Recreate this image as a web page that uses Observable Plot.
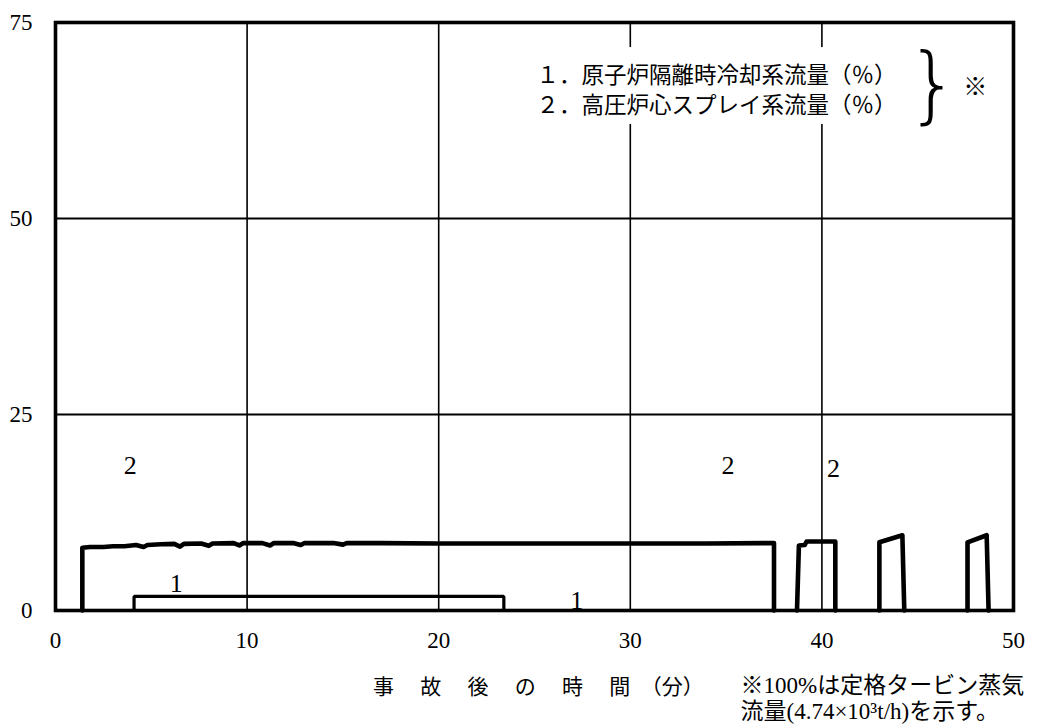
<!DOCTYPE html>
<html><head><meta charset="utf-8">
<script src="https://cdn.jsdelivr.net/npm/d3@7"></script>
<script src="https://cdn.jsdelivr.net/npm/@observablehq/plot@0.6"></script>
<style>body{margin:0;background:#fff}</style>
</head><body><div id="chart"></div>
<script>
// x ticks (minutes), y ticks (%)
const xTicks = [0, 10, 20, 30, 40, 50];
const yTicks = [0, 25, 50, 75];
const xGrid = [10, 20, 30, 40];
const yGrid = [25, 50];

// Series 1: RCIC flow (%)  [time, value]
const series1 = [[4.1, 0], [4.1, 1.8], [23.4, 1.8], [23.4, 0]];

// Series 2: HPCS flow (%) - four operating segments
const series2a = [[1.4, 0], [1.4, 8.0], [1.8, 8.1], [2.5, 8.1], [3.0, 8.2], [3.6, 8.2], [4.2, 8.35], [4.6, 8.1], [4.8, 8.35], [5.5, 8.45],
  [6.2, 8.5], [6.5, 8.15], [6.7, 8.5], [7.6, 8.55], [8.0, 8.25], [8.2, 8.55], [9.3, 8.6], [9.6, 8.3], [9.8, 8.6], [10.8, 8.6],
  [11.2, 8.3], [11.4, 8.6], [12.4, 8.6], [12.8, 8.35], [13.0, 8.6], [14.5, 8.6], [15.0, 8.4], [15.2, 8.6], [17.0, 8.6],
  [20.0, 8.55], [25.0, 8.55], [30.0, 8.55], [34.0, 8.55], [37.5, 8.6], [37.5, 0]];
const series2b = [[38.7, 0], [38.8, 8.3], [39.1, 8.35], [39.2, 8.8], [40.7, 8.8], [40.7, 0]];
const series2c = [[43.0, 0], [43.0, 8.7], [44.2, 9.6], [44.3, 0]];
const series2d = [[47.6, 0], [47.6, 8.7], [48.6, 9.6], [48.7, 0]];

// Curve number labels
const curveLabels = [
  {x: 3.9, y: 18.5, t: "2"}, {x: 35.1, y: 18.5, t: "2"}, {x: 40.6, y: 18.1, t: "2"},
  {x: 6.3, y: 3.4, t: "1"}, {x: 27.2, y: 1.3, t: "1"}
];
// Legend
const legendLines = [
  {x: 25.1, y: 68.2, t: "１．原子炉隔離時冷却系流量（％）"},
  {x: 25.1, y: 64.4, t: "２．高圧炉心スプレイ系流量（％）"}
];
const xTitle = "事　 故　 後　 の　 時　 間　（分）";
const noteLines = ["※100%は定格タービン蒸気", "流量(4.74×10³t/h)を示す。"];

const serif = "'Liberation Serif', 'Noto Sans CJK JP', serif";
const seg = (arr, id) => arr.map(([t, v]) => ({t, v, id}));
const line2 = [...seg(series2a, "a"), ...seg(series2b, "b"), ...seg(series2c, "c"), ...seg(series2d, "d")];
const line1 = seg(series1, "1");

const chart = Plot.plot({
  width: 1048, height: 724,
  marginTop: 22, marginBottom: 114, marginLeft: 55, marginRight: 35,
  style: {fontFamily: serif, fontSize: "23px", background: "#fff", color: "#000"},
  x: {domain: [0, 50], ticks: xTicks, label: null, tickSize: 0, tickPadding: 21},
  y: {domain: [0, 75], ticks: yTicks, label: null, tickSize: 0, tickPadding: 23},
  marks: [
    Plot.ruleX(xGrid, {stroke: "#000", strokeWidth: 1.6}),
    Plot.ruleY(yGrid, {stroke: "#000", strokeWidth: 2.2}),
    Plot.rect([{}], {x1: 24.6, x2: 47.2, y1: 62, y2: 71.8, fill: "#fff"}),
    Plot.line(line1, {x: "t", y: "v", z: "id", stroke: "#000", strokeWidth: 3.2, strokeLinejoin: "miter"}),
    Plot.line(line2, {x: "t", y: "v", z: "id", stroke: "#000", strokeWidth: 4.6, strokeLinejoin: "round"}),
    Plot.frame({stroke: "#000", strokeWidth: 3.6}),
    Plot.text(curveLabels, {x: "x", y: "y", text: "t", fontSize: 26, fontFamily: serif}),
    Plot.text(legendLines, {x: "x", y: "y", text: "t", textAnchor: "start", fontSize: 22.5, fontFamily: serif}),
    Plot.text(["}"], {x: 45.8, y: 66.9, text: d => d, fontSize: 84, fontWeight: 200, fontFamily: "'DejaVu Sans', sans-serif", ariaLabel: "brace"}),
    Plot.text(["※"], {x: 48.0, y: 66.7, text: d => d, fontSize: 24, fontFamily: serif}),
    Plot.text([xTitle], {x: 25.2, frameAnchor: "bottom", dy: 83, text: d => d, fontSize: 21, fontFamily: serif, ariaLabel: "xtitle"}),
    Plot.text([noteLines[0]], {x: 35.75, frameAnchor: "bottom", dy: 82, text: d => d, textAnchor: "start", fontSize: 23, fontFamily: serif}),
    Plot.text([noteLines[1]], {x: 35.75, frameAnchor: "bottom", dy: 108, text: d => d, textAnchor: "start", fontSize: 23, fontFamily: serif})
  ]
});
document.getElementById("chart").appendChild(chart);
d3.select(chart).selectAll('g[aria-label="brace"] text').attr("transform", function(){ return (this.getAttribute("transform")||"") + " scale(0.55,1)"; });
</script>
</body></html>
